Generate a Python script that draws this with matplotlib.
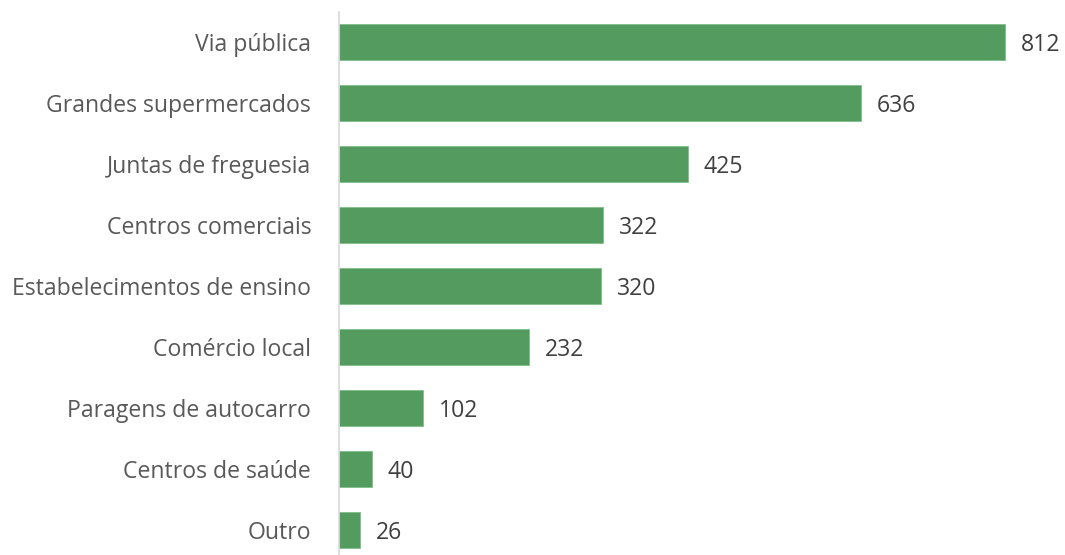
import matplotlib
matplotlib.use("Agg")
import matplotlib.pyplot as plt

categories = ["Via pública", "Grandes supermercados", "Juntas de freguesia",
              "Centros comerciais", "Estabelecimentos de ensino", "Comércio local",
              "Paragens de autocarro", "Centros de saúde", "Outro"]
values = [812, 636, 425, 322, 320, 232, 102, 40, 26]

W, H = 1065, 555
fig = plt.figure(figsize=(W / 100, H / 100), dpi=100)
ax = fig.add_axes([339 / W, -5.5 / H, 726 / W, 549 / H])

ypos = list(range(len(categories)))
ax.barh(ypos, values, height=0.6, color="#539B5F", edgecolor="#7FBF8A", linewidth=0.6)
ax.set_ylim(len(categories) - 0.5, -0.5)
ax.set_xlim(0, 726 / 0.82)
ax.set_yticks(ypos)
ax.set_yticklabels(categories, fontsize=16.6, color="#595959", family="Open Sans",
                   va="center_baseline")
ax.tick_params(axis="y", length=0, pad=20)
ax.set_xticks([])
for s in ["top", "right", "bottom"]:
    ax.spines[s].set_visible(False)
ax.spines["left"].set_color("#D9D9D9")
ax.spines["left"].set_linewidth(1.2)

for y, v in zip(ypos, values):
    ax.annotate(str(v), (v, y), xytext=(16, 0), textcoords="offset pixels",
                va="center_baseline", ha="left", fontsize=16.6, color="#404040",
                family="Open Sans")

fig.savefig("out.png", dpi=100)
